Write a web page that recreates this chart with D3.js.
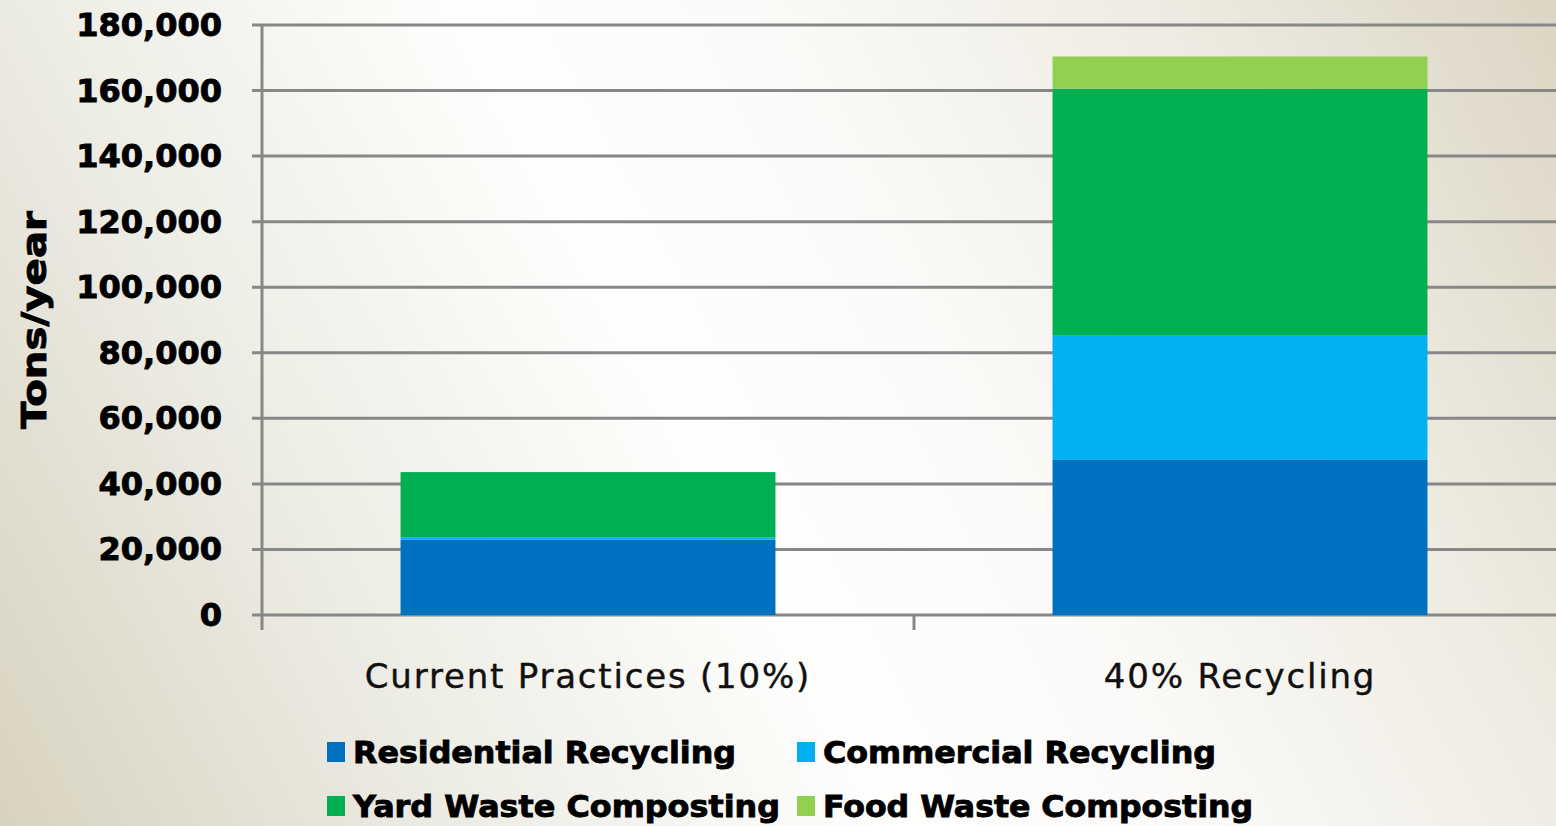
<!DOCTYPE html>
<html>
<head>
<meta charset="utf-8">
<script src="https://cdn.jsdelivr.net/npm/d3@7"></script>
<style>
  body { margin: 0; overflow: hidden; }
  svg { display: block; }
</style>
</head>
<body>
<svg id="chart"></svg>
<script>
// data
var categories = ["Current Practices (10%)", "40% Recycling"];
var seriesNames = ["Residential Recycling", "Commercial Recycling", "Yard Waste Composting", "Food Waste Composting"];
var residential = [23000, 47300];
var commercial = [600, 38100];
var yardWaste = [20000, 75200];
var foodWaste = [0, 9800];
var yTicks = [0, 20000, 40000, 60000, 80000, 100000, 120000, 140000, 160000, 180000];
var colors = ["#0070c0", "#00b0f0", "#00b050", "#92d050"];

var width = 1556;
var height = 826;
var plotLeft = 262, plotRight = 1566, plotTop = 25, plotBottom = 615;

var svg = d3.select("#chart").attr("width", width).attr("height", height);

// background gradient: beige corners bottom-left / top-right, white diagonal band
var defs = svg.append("defs");
var grad = defs.append("linearGradient")
    .attr("id", "bg")
    .attr("gradientUnits", "userSpaceOnUse")
    .attr("x1", 0).attr("y1", 826).attr("x2", 1556).attr("y2", 0);
grad.append("stop").attr("offset", "0%").attr("stop-color", "#d8d3bf");
grad.append("stop").attr("offset", "22%").attr("stop-color", "#ecebe3");
grad.append("stop").attr("offset", "45%").attr("stop-color", "#fefefd");
grad.append("stop").attr("offset", "60%").attr("stop-color", "#fbfaf8");
grad.append("stop").attr("offset", "80%").attr("stop-color", "#eeebe2");
grad.append("stop").attr("offset", "100%").attr("stop-color", "#dbd6c3");
svg.append("rect").attr("width", width).attr("height", height).attr("fill", "url(#bg)");

var x = d3.scaleBand().domain(categories).range([plotLeft, plotRight]).padding(0);
var barWidth = x.bandwidth() * 0.575;
var y = d3.scaleLinear().domain([0, 180000]).range([plotBottom, plotTop]);

// gridlines
svg.selectAll(".grid")
    .data(yTicks)
    .enter().append("line")
    .attr("x1", plotLeft - 10)
    .attr("x2", width)
    .attr("y1", function (d) { return y(d); })
    .attr("y2", function (d) { return y(d); })
    .attr("stroke", "#878787")
    .attr("stroke-width", 3);

// y axis line
svg.append("line")
    .attr("x1", plotLeft).attr("x2", plotLeft)
    .attr("y1", plotTop).attr("y2", plotBottom + 15)
    .attr("stroke", "#878787").attr("stroke-width", 3);

// category tick marks
svg.selectAll(".xtick")
    .data(categories.slice(1))
    .enter().append("line")
    .attr("x1", function (d) { return x(d); })
    .attr("x2", function (d) { return x(d); })
    .attr("y1", plotBottom).attr("y2", plotBottom + 15)
    .attr("stroke", "#878787").attr("stroke-width", 3);

// stack
var rows = categories.map(function (c, i) {
    return { cat: c, s0: residential[i], s1: commercial[i], s2: yardWaste[i], s3: foodWaste[i] };
});
var stack = d3.stack().keys(["s0", "s1", "s2", "s3"]);
var layers = stack(rows);

svg.selectAll(".layer")
    .data(layers)
    .enter().append("g")
    .attr("fill", function (d, i) { return colors[i]; })
    .selectAll("rect")
    .data(function (d) { return d; })
    .enter().append("rect")
    .attr("x", function (d) { return x(d.data.cat) + (x.bandwidth() - barWidth) / 2; })
    .attr("width", barWidth)
    .attr("y", function (d) { return y(d[1]); })
    .attr("height", function (d) { return y(d[0]) - y(d[1]); });

// y tick labels
svg.selectAll(".ylab")
    .data(yTicks)
    .enter().append("text")
    .attr("x", 222)
    .attr("y", function (d) { return y(d) + 11; })
    .attr("text-anchor", "end")
    .style("font-family", "DejaVu Sans")
    .style("font-weight", "bold")
    .style("font-size", "32px")
    .attr("fill", "#000")
    .attr("stroke", "#000")
    .attr("stroke-width", 0.9)
    .text(function (d) { return d3.format(",")(d); });

// y title
svg.append("text")
    .attr("transform", "translate(46,320) rotate(-90)")
    .attr("text-anchor", "middle")
    .attr("textLength", 218)
    .attr("lengthAdjust", "spacingAndGlyphs")
    .style("font-family", "DejaVu Sans")
    .style("font-weight", "bold")
    .style("font-size", "34px")
    .attr("stroke", "#000")
    .attr("stroke-width", 0.9)
    .text("Tons/year");

// x labels
svg.selectAll(".xlab")
    .data(categories)
    .enter().append("text")
    .attr("x", function (d) { return x(d) + x.bandwidth() / 2; })
    .attr("y", 688)
    .attr("text-anchor", "middle")
    .style("font-family", "DejaVu Sans")
    .style("font-size", "34px")
    .attr("letter-spacing", "1.8px")
    .attr("fill", "#111")
    .attr("stroke", "#111")
    .attr("stroke-width", 0.4)
    .text(function (d) { return d; });

// legend
var legendPos = [[327, 752], [797, 752], [327, 806], [797, 806]];
var legendLen = [383, 393, 427, 430];
var lg = svg.selectAll(".legend")
    .data(seriesNames)
    .enter().append("g")
    .attr("transform", function (d, i) { return "translate(" + legendPos[i][0] + "," + legendPos[i][1] + ")"; });
lg.append("rect")
    .attr("x", 0).attr("y", -10)
    .attr("width", 18).attr("height", 20)
    .attr("fill", function (d, i) { return colors[i]; });
lg.append("text")
    .attr("x", 26).attr("y", 11)
    .attr("textLength", function (d, i) { return legendLen[i]; })
    .attr("lengthAdjust", "spacingAndGlyphs")
    .style("font-family", "DejaVu Sans")
    .style("font-weight", "bold")
    .style("font-size", "31px")
    .attr("fill", "#000")
    .attr("stroke", "#000")
    .attr("stroke-width", 0.9)
    .text(function (d) { return d; });
</script>
</body>
</html>
